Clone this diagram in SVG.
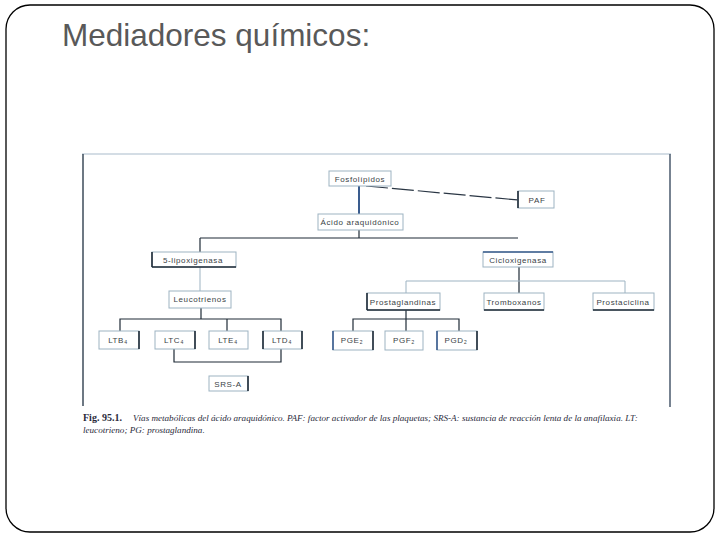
<svg xmlns="http://www.w3.org/2000/svg" width="720" height="540" viewBox="0 0 720 540">
<style>
.bx{fill:#fff;stroke:#9db3c2;stroke-width:1}
.lb{font-family:"Liberation Sans",Arial,sans-serif;font-size:8px;fill:#3a3f46;letter-spacing:0.6px;text-anchor:middle}
.dk{stroke:#1e2a36;stroke-width:1.6;fill:none}
.ln{stroke:#1e2a36;stroke-width:1.2;fill:none}
.lt{stroke:#9db3c2;stroke-width:1;fill:none}
.cap{font-family:"Liberation Serif","Times New Roman",serif;font-size:9.1px;fill:#2a2a3a}
</style>
<rect x="6" y="5" width="708" height="527" rx="24" ry="24" fill="#fff" stroke="#000" stroke-width="1.3"/>
<text x="62" y="46" font-family="Liberation Sans,Arial,sans-serif" font-size="31.5" fill="#595959">Mediadores químicos:</text>
<g id="frame">
<line x1="82" y1="154" x2="671" y2="154" stroke="#a9bccb" stroke-width="1.2"/>
<line x1="83" y1="154" x2="83" y2="406" stroke="#3d4b5a" stroke-width="1.5"/>
<line x1="670" y1="154" x2="670" y2="407" stroke="#4a5a6c" stroke-width="1.5"/>
</g>
<g id="connectors">
<line x1="366" y1="186" x2="518" y2="200" stroke="#2a3644" stroke-width="1.2" stroke-dasharray="22,4"/>
<line x1="359" y1="186" x2="359" y2="214" stroke="#3a5c8e" stroke-width="2"/>
<line class="ln" x1="359" y1="230" x2="359" y2="238"/>
<line class="ln" x1="200" y1="238" x2="518" y2="238"/>
<line class="ln" x1="200" y1="238" x2="200" y2="252"/>
<line class="lt" x1="200" y1="267" x2="200" y2="291"/>
<line class="ln" x1="201" y1="308" x2="201" y2="319"/>
<polyline class="ln" points="120,331 120,319 281,319 281,331"/>
<line class="ln" x1="227" y1="319" x2="227" y2="331"/>
<polyline class="ln" points="174,349 174,362 281,362 281,349"/>
<line class="ln" x1="519" y1="267" x2="519" y2="293"/>
<polyline class="lt" points="406,293 406,281 625,281 625,293"/>
<line class="ln" x1="406" y1="310" x2="406" y2="331"/>
<polyline class="ln" points="353,331 353,319 459,319 459,331"/>
</g>
<g id="fosfolipidos"><rect class="bx" x="329" y="171" width="62" height="15"/><text class="lb" x="360" y="182">Fosfolípidos</text></g>
<g id="paf"><rect class="bx" x="518" y="191" width="36" height="17"/><line class="dk" x1="518" y1="191" x2="518" y2="208" stroke="#3a5c8e"/><text class="lb" x="537" y="203">PAF</text></g>
<g id="acido"><rect class="bx" x="318" y="214" width="85" height="16"/><text class="lb" x="360" y="225">Ácido araquidónico</text></g>
<g id="lipox"><rect class="bx" x="152" y="252" width="84" height="15"/><line class="dk" x1="152" y1="252" x2="152" y2="267"/><line class="dk" x1="152" y1="267" x2="236" y2="267"/><text class="lb" x="193" y="263">5-lipoxigenasa</text></g>
<g id="ciclox"><rect class="bx" x="483" y="252" width="70" height="15"/><line x1="483" y1="252" x2="553" y2="252" stroke="#3a5c8e" stroke-width="1.6"/><text class="lb" x="518" y="263">Cicloxigenasa</text></g>
<g id="leucotrienos"><rect class="bx" x="169" y="291" width="62" height="17"/><text class="lb" x="200" y="302">Leucotrienos</text></g>
<g id="prostaglandinas"><rect class="bx" x="367" y="293" width="73" height="17"/><line class="dk" x1="367" y1="293" x2="367" y2="310"/><line class="dk" x1="367" y1="310" x2="440" y2="310"/><text class="lb" x="403" y="305">Prostaglandinas</text></g>
<g id="tromboxanos"><rect class="bx" x="484" y="293" width="60" height="17"/><line class="dk" x1="484" y1="310" x2="544" y2="310"/><text class="lb" x="514" y="305">Tromboxanos</text></g>
<g id="prostaciclina"><rect class="bx" x="593" y="293" width="61" height="17"/><line class="dk" x1="593" y1="310" x2="654" y2="310"/><text class="lb" x="623" y="305">Prostaciclina</text></g>
<g id="ltb4"><rect class="bx" x="99" y="331" width="40" height="18"/><line class="dk" x1="139" y1="331" x2="139" y2="349"/><text class="lb" x="118" y="343">LTB₄</text></g>
<g id="ltc4"><rect class="bx" x="155" y="331" width="40" height="18"/><line class="dk" x1="195" y1="331" x2="195" y2="349"/><text class="lb" x="174" y="343">LTC₄</text></g>
<g id="lte4"><rect class="bx" x="209" y="331" width="39" height="18"/><text class="lb" x="228" y="343">LTE₄</text></g>
<g id="ltd4"><rect class="bx" x="263" y="331" width="39" height="18"/><line class="dk" x1="263" y1="331" x2="263" y2="349"/><line class="dk" x1="302" y1="331" x2="302" y2="349"/><text class="lb" x="282" y="343">LTD₄</text></g>
<g id="srsa"><rect class="bx" x="209" y="376" width="39" height="15"/><line class="dk" x1="248" y1="376" x2="248" y2="391"/><text class="lb" x="228" y="387">SRS-A</text></g>
<g id="pge2"><rect class="bx" x="333" y="331" width="40" height="19"/><line x1="333" y1="331" x2="333" y2="350" stroke="#3a5c8e" stroke-width="1.6"/><line class="dk" x1="373" y1="331" x2="373" y2="350"/><text class="lb" x="352" y="343">PGE₂</text></g>
<g id="pgf2"><rect class="bx" x="385" y="331" width="38" height="19"/><text class="lb" x="404" y="343">PGF₂</text></g>
<g id="pgd2"><rect class="bx" x="437" y="331" width="40" height="19"/><line x1="437" y1="331" x2="437" y2="350" stroke="#3a5c8e" stroke-width="1.6"/><line class="dk" x1="477" y1="331" x2="477" y2="350"/><text class="lb" x="456" y="343">PGD₂</text></g>
<g id="caption">
<text class="cap" x="83" y="421"><tspan font-weight="bold" font-size="10">Fig. 95.1.</tspan><tspan x="133" font-style="italic">Vías metabólicas del ácido araquidónico. PAF: factor activador de las plaquetas; SRS-A: sustancia de reacción lenta de la anafilaxia. LT:</tspan></text>
<text class="cap" x="83" y="433" font-style="italic">leucotrieno; PG: prostaglandina.</text>
</g>
</svg>
